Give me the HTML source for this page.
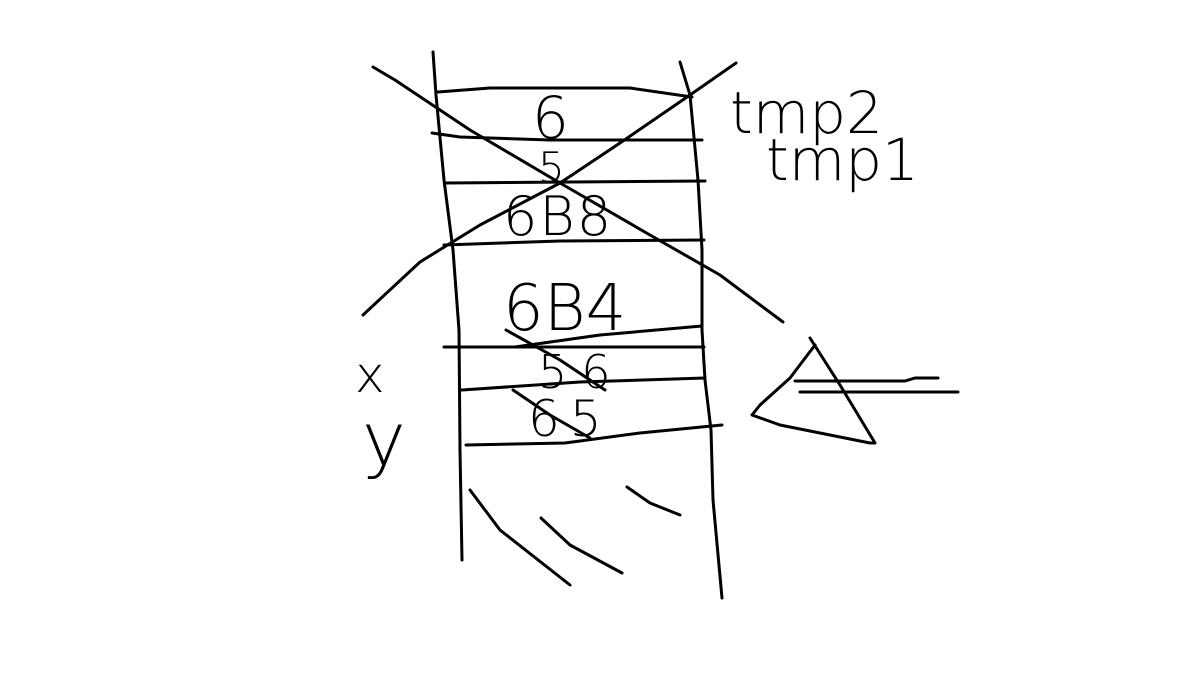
<!DOCTYPE html>
<html><head><meta charset="utf-8"><style>
html,body{margin:0;padding:0;background:#fff;width:1178px;height:682px;overflow:hidden}
svg{display:block}
text{font-family:"DejaVu Sans","Liberation Sans",sans-serif;font-weight:200;fill:#000;stroke:none}
</style></head><body>
<svg width="1178" height="682" viewBox="0 0 1178 682" fill="none" stroke="#000" stroke-width="3" stroke-linecap="round" stroke-linejoin="round">
<g>
<polyline points="433,52 436,95 444,180 453,250 459,330 460,450 462,560"/>
<polyline points="680,62 690,95 698,180 702,250 702,330 705,380 711,430 713,500 722,598"/>
</g>
<g>
<polyline points="438,92 490,88 630,88 692,97"/>
<polyline points="432,133 460,137 550,140 702,140"/>
<polyline points="446,183 705,181"/>
<polyline points="444,245 560,241 704,240"/>
<polyline points="444,347 590,347 704,347"/>
<polyline points="515,347 600,335 702,326"/>
<polyline points="462,390 580,382 705,378"/>
<polyline points="466,445 565,443 640,433 722,425"/>
</g>
<g>
<polyline points="373,67 395,80 470,130 560,183 650,235 720,275 783,322"/>
<polyline points="736,63 690,95 620,143 560,183 480,225 420,262 363,315"/>
</g>
<g>
<polyline points="506,330 560,360 605,390"/>
<polyline points="513,390 550,415 590,438"/>
</g>
<g>
<polyline points="470,490 500,530 570,585"/>
<polyline points="541,518 570,545 622,573"/>
<polyline points="627,487 650,503 680,515"/>
</g>
<g>
<polyline points="815,345 790,378 760,405 752,415 780,425 870,443 875,443 840,385 810,338"/>
<polyline points="795,381 905,381 915,378 938,378"/>
<polyline points="800,392 958,392"/>
</g>
<g>
<text x="532" y="138" font-size="58">6</text>
<text x="538" y="182" font-size="42">5</text>
<text x="503" y="235" font-size="54" letter-spacing="2">6B8</text>
<text x="503" y="330" font-size="64">6B4</text>
<text x="538" y="388" font-size="46" letter-spacing="14">56</text>
<text x="528" y="436" font-size="50" letter-spacing="10">65</text>
<text x="355" y="392" font-size="50">x</text>
<text x="362" y="465" font-size="74">y</text>
<text x="730" y="133" font-size="58">tmp2</text>
<text x="766" y="180" font-size="58">tmp1</text>
</g>
</svg>
</body></html>
